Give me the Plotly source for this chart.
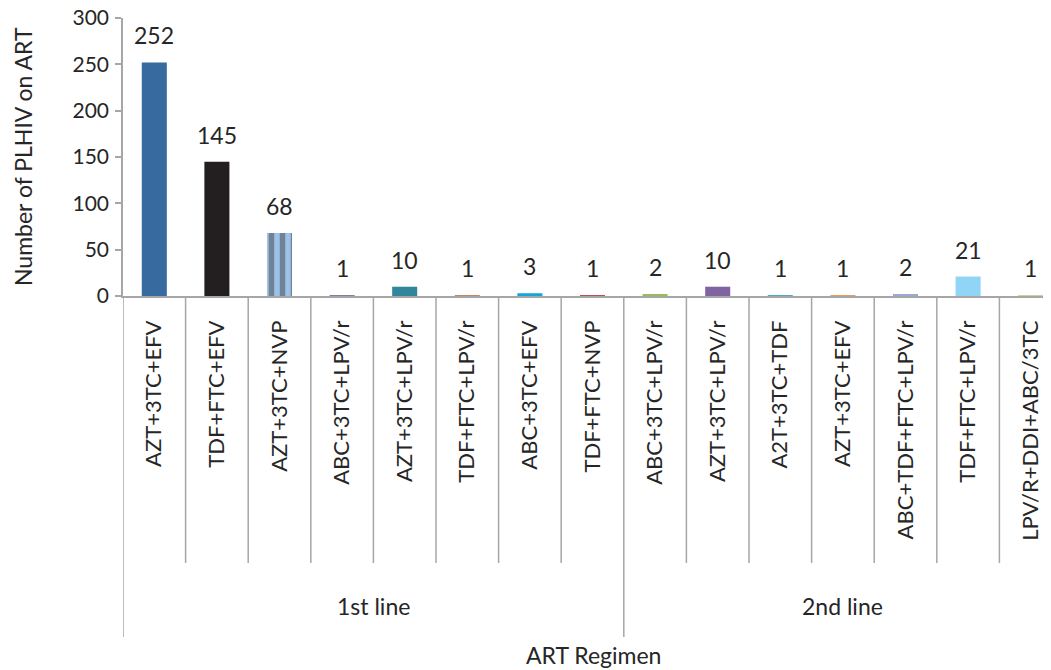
import plotly.graph_objects as go

# ── data ─────────────────────────────────────────────
GROUPS = ['1st line'] * 8 + ['2nd line'] * 7
REGIMENS = [
    'AZT+3TC+EFV', 'TDF+FTC+EFV', 'AZT+3TC+NVP', 'ABC+3TC+LPV/r',
    'AZT+3TC+LPV/r', 'TDF+FTC+LPV/r', 'ABC+3TC+EFV', 'TDF+FTC+NVP',
    'ABC+3TC+LPV/r', 'AZT+3TC+LPV/r', 'A2T+3TC+TDF', 'AZT+3TC+EFV',
    'ABC+TDF+FTC+LPV/r', 'TDF+FTC+LPV/r', 'LPV/R+DDI+ABC/3TC',
]
COUNTS = [252, 145, 68, 1, 10, 1, 3, 1, 2, 10, 1, 1, 2, 21, 1]
COLORS = [
    '#376a9f', '#231f20', '#9cc2e8', '#7f7fa6', '#31869b', '#c8875a',
    '#12a6dc', '#b9504f', '#9bbb59', '#8064a2', '#4bacc6', '#e99a5c',
    '#99a9d3', '#90d5f5', '#c3d69b',
]
PATTERNS = ['', '', '|', '', '', '', '', '', '', '', '', '', '', '', '']
Y_TICKS = [0, 50, 100, 150, 200, 250, 300]

FONT = 'Lato, Open Sans, sans-serif'
TXT = '#262626'
AXC = '#a6a6a6'

# the page body adds an 8px margin, so work in page pixels minus 8
OFF = 8
W, H = 1051 - OFF, 670 - OFF
L, T = 123 - OFF, 18 - OFF
B = H - (296 - OFF)
CAT_W = 62.6

x = list(range(len(REGIMENS)))
plot_h = H - T - B
plot_w = W - L


def py2paper(py):
    # page pixel row -> paper y
    return (H - B - (py - OFF)) / plot_h


def px2paper(px):
    return (px - OFF - L) / plot_w


fig = go.Figure()
fig.add_trace(go.Bar(
    x=x, y=COUNTS, width=0.4,
    marker=dict(
        color=COLORS, line=dict(width=0),
        pattern=dict(shape=PATTERNS, fgcolor=COLORS, bgcolor='white',
                     size=11, solidity=0.5),
    ),
    hovertemplate='%{y}<extra></extra>',
))

# value labels
for i, v in zip(x, COUNTS):
    fig.add_annotation(x=i, y=v, text=str(v), showarrow=False,
                       yanchor='bottom', yshift=11,
                       font=dict(size=23, color=TXT, family=FONT))

# dividers under the axis
shapes = []
grp_bounds = [i for i in range(1, len(GROUPS)) if GROUPS[i] != GROUPS[i - 1]]
for k in range(len(REGIMENS) + 1):
    xb = k - 0.5
    is_grp = k == 0 or k == len(REGIMENS) or k in grp_bounds
    y_end = py2paper(637 if is_grp else 563)
    shapes.append(dict(type='line', xref='x', yref='paper', x0=xb, x1=xb,
                       y0=0, y1=y_end, line=dict(color=AXC, width=1.5)))
fig.update_layout(shapes=shapes)

# group labels
starts = [0] + grp_bounds
ends = grp_bounds + [len(GROUPS)]
for s, e in zip(starts, ends):
    fig.add_annotation(x=(s + e - 1) / 2, y=py2paper(606), xref='x', yref='paper',
                       text=GROUPS[s], showarrow=False, yanchor='middle',
                       font=dict(size=23, color=TXT, family=FONT))

fig.add_annotation(x=px2paper(593), y=py2paper(655), xref='paper', yref='paper',
                   xanchor='center', yanchor='middle', text='ART Regimen',
                   showarrow=False, font=dict(size=23, color=TXT, family=FONT))
fig.add_annotation(x=px2paper(23), y=0.5, xref='paper', yref='paper',
                   xanchor='center', yanchor='middle', textangle=-90,
                   text='Number of PLHIV on ART', showarrow=False,
                   font=dict(size=23, color=TXT, family=FONT))

span = plot_w / CAT_W
fig.update_xaxes(
    range=[-0.5, -0.5 + span], tickvals=x, ticktext=REGIMENS,
    tickangle=-90, ticks='', ticklabelstandoff=14, automargin=False,
    tickfont=dict(size=22, color=TXT, family=FONT),
    showline=True, linecolor=AXC, linewidth=1.5,
    showgrid=False, zeroline=False, fixedrange=True,
)
fig.update_yaxes(
    range=[0, 300], tickvals=Y_TICKS, ticks='outside', ticklen=6,
    tickcolor=AXC, tickwidth=1.5, ticklabelstandoff=2, automargin=False,
    ticklabeloverflow='allow',
    tickfont=dict(size=21, color=TXT, family=FONT),
    showline=True, linecolor=AXC, linewidth=1.5,
    showgrid=False, zeroline=False,
)

fig.update_layout(
    width=W, height=H, autosize=False,
    margin=dict(l=L, r=0, t=T, b=B, pad=0),
    paper_bgcolor='white', plot_bgcolor='white',
    showlegend=False,
    font=dict(family=FONT, color=TXT),
)

fig.write_html('out.html')
